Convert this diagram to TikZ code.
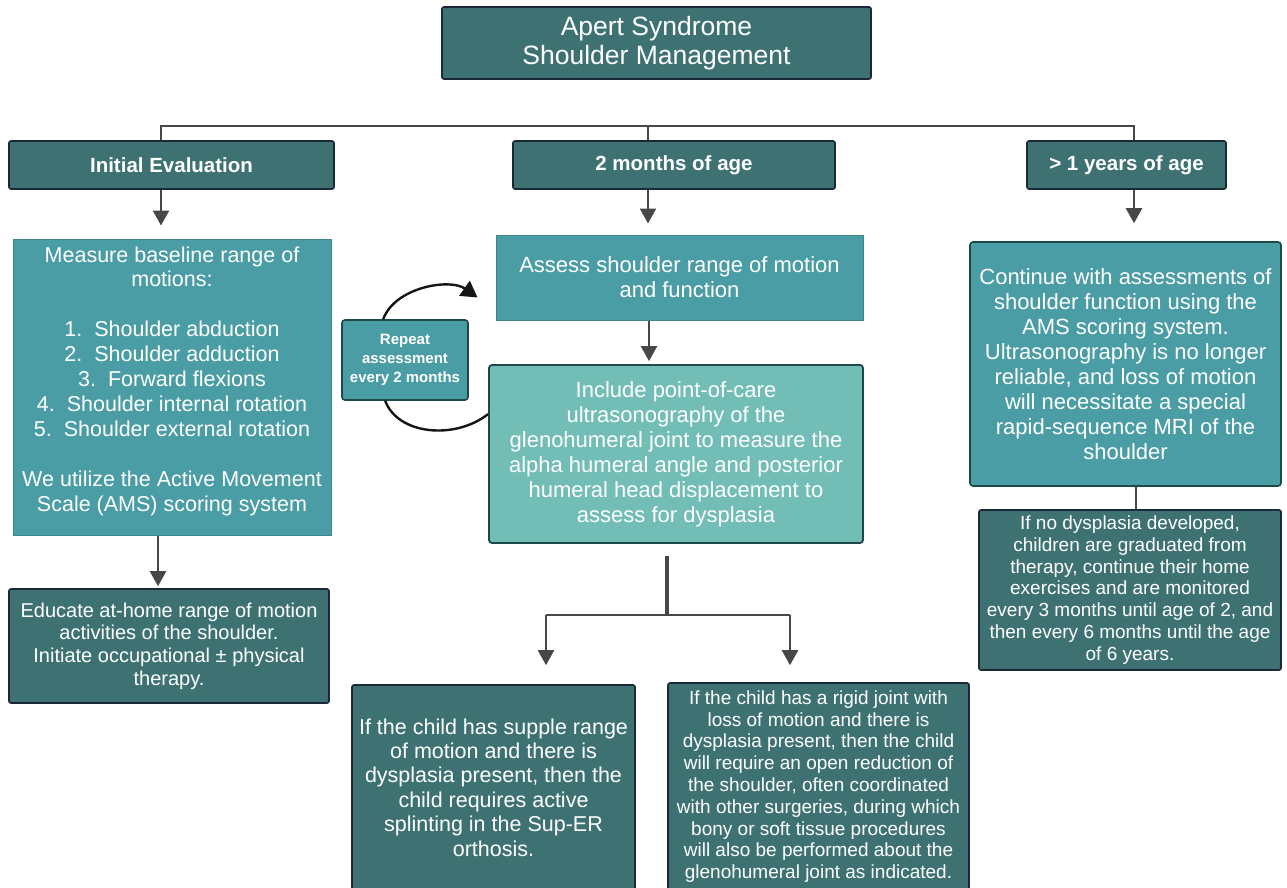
\documentclass[tikz,border=0pt]{standalone}
\usepackage{fontspec}
\setmainfont{Liberation Sans}
\usetikzlibrary{arrows.meta,calc}
\definecolor{dteal}{HTML}{3E7272}
\definecolor{mteal}{HTML}{4A9DA4}
\definecolor{lteal}{HTML}{72BDB5}
\definecolor{navy}{HTML}{1B2838}
\definecolor{lnc}{HTML}{474747}
\definecolor{mborder}{HTML}{3B878D}
\definecolor{tborder}{HTML}{1F4848}
\definecolor{arcc}{HTML}{151515}
\begin{document}
\begin{tikzpicture}[x=1pt,y=-1pt,
  base/.style={rectangle, text=white, align=center, inner sep=0pt},
  dbox/.style={base, fill=dteal, draw=navy, line width=1.6pt, rounded corners=2pt},
  mbox/.style={base, fill=mteal, draw=mborder, line width=1pt},
  rbox/.style={base, fill=mteal, draw=tborder, line width=1.6pt, rounded corners=3pt},
  lbox/.style={base, fill=lteal, draw=tborder, line width=1.8pt, rounded corners=3pt},
  txt/.style={base, draw=none, fill=none},
  fbig/.style={font=\fontsize{22}{25}\selectfont},
  fmid/.style={font=\fontsize{19}{21.8}\selectfont},
  fhead/.style={font=\fontsize{20.5}{24}\selectfont\bfseries},
  arr/.style={draw=lnc, line width=2.4pt, -{Triangle[width=16pt,length=15pt]}},
  ln/.style={draw=lnc, line width=2.4pt},
  arc/.style={draw=arcc, line width=2.4pt},
]
\useasboundingbox[fill=white] (0,0) rectangle (1287,888);

% title
\node[dbox, minimum width=429pt, minimum height=72pt, font=\fontsize{26.5}{28.5}\selectfont] (title) at (656.5,43) {Apert Syndrome\\Shoulder Management};

% headers
\node[dbox, fhead, minimum width=325pt, minimum height=48pt] (init) at (171.5,165) {Initial Evaluation};
\node[dbox, fhead, minimum width=322pt, minimum height=48pt] (two) at (674,165) {2 months of age};
\node[dbox, fhead, minimum width=199pt, minimum height=48pt] (year) at (1126.5,165) {> 1 years of age};

% branch line
\coordinate (ja) at (161,126);
\coordinate (jb) at (648,126);
\coordinate (jc) at (1134,126);
\draw[ln] (ja |- init.north) -- (ja) -- (jc) -- (jc |- year.north);
\draw[ln] (jb) -- (jb |- two.north);

% left column
\node[mbox, minimum width=318pt, minimum height=296pt] (measure) at (172,387) {};
\node[txt, font=\fontsize{21.5}{24.9}\selectfont] (measuret) at (172,381) {Measure baseline range of\\motions:\\[24.9pt]1.\ \ Shoulder abduction\\2.\ \ Shoulder adduction\\3.\ \ Forward flexions\\4.\ \ Shoulder internal rotation\\5.\ \ Shoulder external rotation\\[24.9pt]We utilize the Active Movement\\Scale (AMS) scoring system};
\node[dbox, minimum width=320pt, minimum height=114pt, font=\fontsize{20}{22.7}\selectfont] (educate) at (169,646) {Educate at-home range of motion\\activities of the shoulder.\\Initiate occupational ± physical\\therapy.};

\draw[arr, shorten >=13pt] (ja |- init.south) -- (ja |- measure.north);
\coordinate (xm) at (158,0);
\draw[arr, shorten >=2pt] (xm |- measure.south) -- (xm |- educate.north);

% middle column
\node[mbox, fbig, minimum width=367pt, minimum height=85pt] (assess) at (679.5,277.5) {Assess shoulder range of motion\\and function};
\node[lbox, fbig, minimum width=374pt, minimum height=178pt] (include) at (676,454) {Include point-of-care\\ultrasonography of the\\glenohumeral joint to measure the\\alpha humeral angle and posterior\\humeral head displacement to\\assess for dysplasia};
\node[rbox, minimum width=126pt, minimum height=80pt, font=\fontsize{15}{18.7}\selectfont\bfseries] (repeat) at (405,360) {Repeat\\assessment\\every 2 months};

\draw[arr, shorten >=11pt] (jb |- two.south) -- (jb |- assess.north);
\coordinate (xa) at (649,0);
\draw[arr, shorten >=3pt] (xa |- assess.south) -- (xa |- include.north);

% repeat loop
\draw[arc, -{Triangle[width=18pt,length=16pt]}] ($(repeat.north west)+(42,0)$) .. controls (395,287) and (450,278) .. ($(assess.west)+(-18,20)$);
\draw[arc] ($(include.north west)+(0,50)$) .. controls (455,440) and (398,435) .. ($(repeat.south west)+(44,0)$);

% lower split
\node[dbox, minimum width=283pt, minimum height=205pt, font=\fontsize{21.5}{24.4}\selectfont] (supple) at (493.5,787.5) {If the child has supple range\\of motion and there is\\dysplasia present, then the\\child requires active\\splinting in the Sup-ER\\orthosis.};
\node[dbox, fmid, minimum width=301pt, minimum height=207pt] (rigid) at (818.5,786.5) {If the child has a rigid joint with\\loss of motion and there is\\dysplasia present, then the child\\will require an open reduction of\\the shoulder, often coordinated\\with other surgeries, during which\\bony or soft tissue procedures\\will also be performed about the\\glenohumeral joint as indicated.};

\coordinate (xs) at (667,615);
\coordinate (sl) at (546,615);
\coordinate (sr) at (790,615);
\draw[draw=lnc, line width=4.5pt, shorten <=12pt] (xs |- include.south) -- (xs);
\draw[ln] (sl) -- (sr);
\draw[arr, shorten >=19pt] (sl) -- (sl |- supple.north);
\draw[arr, shorten >=17pt] (sr) -- (sr |- rigid.north);

% right column
\node[rbox, fbig, minimum width=311pt, minimum height=244pt] (continue) at (1125.5,364) {Continue with assessments of\\shoulder function using the\\AMS scoring system.\\Ultrasonography is no longer\\reliable, and loss of motion\\will necessitate a special\\rapid-sequence MRI of the\\shoulder};
\node[dbox, fmid, minimum width=302pt, minimum height=160pt] (ifno) at (1130,590) {If no dysplasia developed,\\children are graduated from\\therapy, continue their home\\exercises and are monitored\\every 3 months until age of 2, and\\then every 6 months until the age\\of 6 years.};

\draw[arr, shorten >=18pt] (jc |- year.south) -- (jc |- continue.north);
\coordinate (xc) at (1136,0);
\draw[ln] (xc |- continue.south) -- (xc |- ifno.north);
\end{tikzpicture}
\end{document}
